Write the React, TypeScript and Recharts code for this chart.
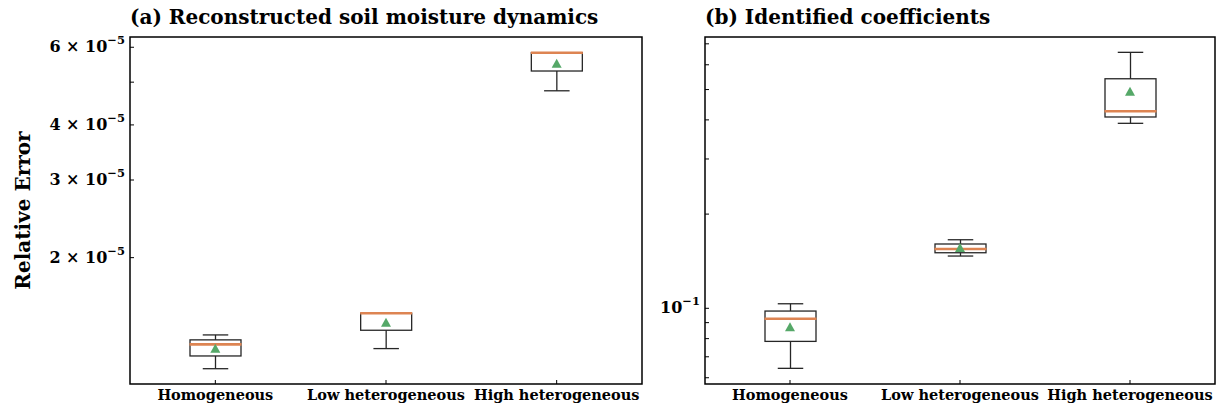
import { Bar, ComposedChart, ReferenceArea, Scatter, XAxis, YAxis } from "recharts";

const categories = ["Homogeneous", "Low heterogeneous", "High heterogeneous"];

// (a) reconstructed soil moisture dynamics
const soilMin = [1.12e-5, 1.244e-5, 4.78e-5];
const soilQ1 = [1.197e-5, 1.369e-5, 5.3e-5];
const soilMedian = [1.272e-5, 1.496e-5, 5.83e-5];
const soilQ3 = [1.302e-5, 1.496e-5, 5.83e-5];
const soilMax = [1.336e-5, 1.496e-5, 5.83e-5];
const soilMean = [1.24e-5, 1.42e-5, 5.49e-5];
const soilDomain = [1.034e-5, 6.33e-5];
const soilTicks = [2e-5, 3e-5, 4e-5, 5e-5, 6e-5];
const soilTickLabels = ["2 × 10", "3 × 10", "4 × 10", "", "6 × 10"];

// (b) identified coefficients
const coefMin = [0.0643, 0.1469, 0.39];
const coefQ1 = [0.0784, 0.1505, 0.4086];
const coefMedian = [0.0926, 0.1547, 0.426];
const coefQ3 = [0.098, 0.1605, 0.5413];
const coefMax = [0.1034, 0.1656, 0.6575];
const coefMean = [0.0867, 0.1553, 0.49];
const coefDomain = [0.0573, 0.736];
const coefTicks = [0.06, 0.07, 0.08, 0.09, 0.1, 0.2, 0.3, 0.4, 0.5, 0.6, 0.7];
const coefTickLabels = ["", "", "", "", "10", "", "", "", "", "", ""];

const FONT = "'DejaVu Serif', serif";
const MEDIAN_COLOR = "#dd8452";
const MEAN_COLOR = "#55a868";

type Row = {
  name: string;
  range: [number, number];
  min: number;
  q1: number;
  median: number;
  q3: number;
  max: number;
  mean: number;
};

function buildRows(min: number[], q1: number[], med: number[], q3: number[], max: number[], mean: number[]): Row[] {
  return categories.map((name, i) => ({
    name,
    range: [min[i], max[i]],
    min: min[i],
    q1: q1[i],
    median: med[i],
    q3: q3[i],
    max: max[i],
    mean: mean[i],
  }));
}

const soilRows = buildRows(soilMin, soilQ1, soilMedian, soilQ3, soilMax, soilMean);
const coefRows = buildRows(coefMin, coefQ1, coefMedian, coefQ3, coefMax, coefMean);

// whole box drawn from the whisker bar; inner values placed on the same log scale
function BoxShape(props: any) {
  const { x, y, width, height, payload } = props;
  const top = Math.min(y, y + height);
  const bottom = Math.max(y, y + height);
  const lMax = Math.log(payload.max);
  const lMin = Math.log(payload.min);
  const py = (v: number) => (lMax === lMin ? top : top + ((bottom - top) * (lMax - Math.log(v))) / (lMax - lMin));
  const cx = x + width / 2;
  const cap = width / 4;
  const yQ1 = py(payload.q1);
  const yQ3 = py(payload.q3);
  const yMed = py(payload.median);
  const stroke = "#262626";
  return (
    <g>
      <line x1={cx} x2={cx} y1={top} y2={yQ3} stroke={stroke} strokeWidth={1.3} />
      <line x1={cx} x2={cx} y1={yQ1} y2={bottom} stroke={stroke} strokeWidth={1.3} />
      <line x1={cx - cap} x2={cx + cap} y1={top} y2={top} stroke={stroke} strokeWidth={1.3} />
      <line x1={cx - cap} x2={cx + cap} y1={bottom} y2={bottom} stroke={stroke} strokeWidth={1.3} />
      <rect x={x} y={yQ3} width={width} height={yQ1 - yQ3} fill="none" stroke={stroke} strokeWidth={1.3} />
      <line x1={x - 0.5} x2={x + width + 0.5} y1={yMed} y2={yMed} stroke={MEDIAN_COLOR} strokeWidth={2.6} />
    </g>
  );
}

function MeanMarker(props: any) {
  const { cx, cy } = props;
  return <path d={`M${cx},${cy - 5.5} L${cx + 5},${cy + 3.5} L${cx - 5},${cy + 3.5} Z`} fill={MEAN_COLOR} />;
}

function makeYTick(ticks: number[], labels: string[], exp: string) {
  return (props: any) => {
    const { x, y, payload } = props;
    const i = ticks.findIndex((t) => Math.abs(t - payload.value) < 1e-12);
    const label = labels[i];
    if (!label) return null;
    return (
      <text x={x} y={y} dy={5} textAnchor="end" fontFamily={FONT} fontWeight="bold" fontSize={16} fill="#000">
        {label}
        <tspan dy={-8} fontSize={11.5}>
          {exp}
        </tspan>
      </text>
    );
  };
}

function XTick(props: any) {
  const { x, y, payload } = props;
  return (
    <text x={x} y={y} dy={12} textAnchor="middle" fontFamily={FONT} fontWeight="bold" fontSize={14.5} fill="#000">
      {payload.value}
    </text>
  );
}

function YLabel(props: any) {
  const { viewBox } = props;
  const x = viewBox.x + 23;
  const y = viewBox.y + viewBox.height / 2;
  return (
    <text
      x={x}
      y={y}
      dy={7}
      transform={`rotate(-90, ${x}, ${y})`}
      textAnchor="middle"
      fontFamily={FONT}
      fontWeight="bold"
      fontSize={20}
      fill="#000"
    >
      Relative Error
    </text>
  );
}

type PanelProps = {
  title: string;
  rows: Row[];
  domain: number[];
  ticks: number[];
  tickLabels: string[];
  exp: string;
  left: number;
  width: number;
  yAxisWidth: number;
  marginRight: number;
  yLabel?: boolean;
};

function Panel({ title, rows, domain, ticks, tickLabels, exp, left, width, yAxisWidth, marginRight, yLabel }: PanelProps) {
  return (
    <div style={{ position: "absolute", left, top: 0, width, height: 406 }}>
      <div
        style={{
          position: "absolute",
          left: yAxisWidth,
          top: 5,
          fontFamily: FONT,
          fontWeight: "bold",
          fontSize: 20,
          lineHeight: "24px",
          whiteSpace: "nowrap",
          color: "#000",
        }}
      >
        {title}
      </div>
      <ComposedChart width={width} height={406} data={rows} margin={{ top: 37, right: marginRight, bottom: 0, left: 0 }}>
        <XAxis
          dataKey="name"
          type="category"
          height={22}
          axisLine={false}
          tickSize={-4}
          tickMargin={8}
          tickLine={{ stroke: "#000", strokeWidth: 1 }}
          tick={<XTick />}
          interval={0}
        />
        <YAxis
          type="number"
          scale="log"
          domain={domain}
          allowDataOverflow
          ticks={ticks}
          interval={0}
          width={yAxisWidth}
          axisLine={false}
          tickSize={-4}
          tickMargin={9}
          tickLine={{ stroke: "#000", strokeWidth: 1 }}
          tick={makeYTick(ticks, tickLabels, exp)}
          label={yLabel ? { content: <YLabel /> } : undefined}
        />
        <Bar dataKey="range" barSize={51} shape={<BoxShape />} isAnimationActive={false} />
        <Scatter dataKey="mean" shape={<MeanMarker />} isAnimationActive={false} />
        <ReferenceArea
          y1={domain[0]}
          y2={domain[1]}
          fill="none"
          fillOpacity={0}
          stroke="#000"
          strokeWidth={1.5}
          ifOverflow="visible"
        />
      </ComposedChart>
    </div>
  );
}

export default function App() {
  return (
    <div style={{ position: "absolute", left: 0, top: 0, width: 1217, height: 406, background: "#fff" }}>
      <Panel
        title="(a) Reconstructed soil moisture dynamics"
        rows={soilRows}
        domain={soilDomain}
        ticks={soilTicks}
        tickLabels={soilTickLabels}
        exp="−5"
        left={0}
        width={650}
        yAxisWidth={130}
        marginRight={8}
        yLabel
      />
      <Panel
        title="(b) Identified coefficients"
        rows={coefRows}
        domain={coefDomain}
        ticks={coefTicks}
        tickLabels={coefTickLabels}
        exp="−1"
        left={650}
        width={567}
        yAxisWidth={55}
        marginRight={2}
      />
    </div>
  );
}
